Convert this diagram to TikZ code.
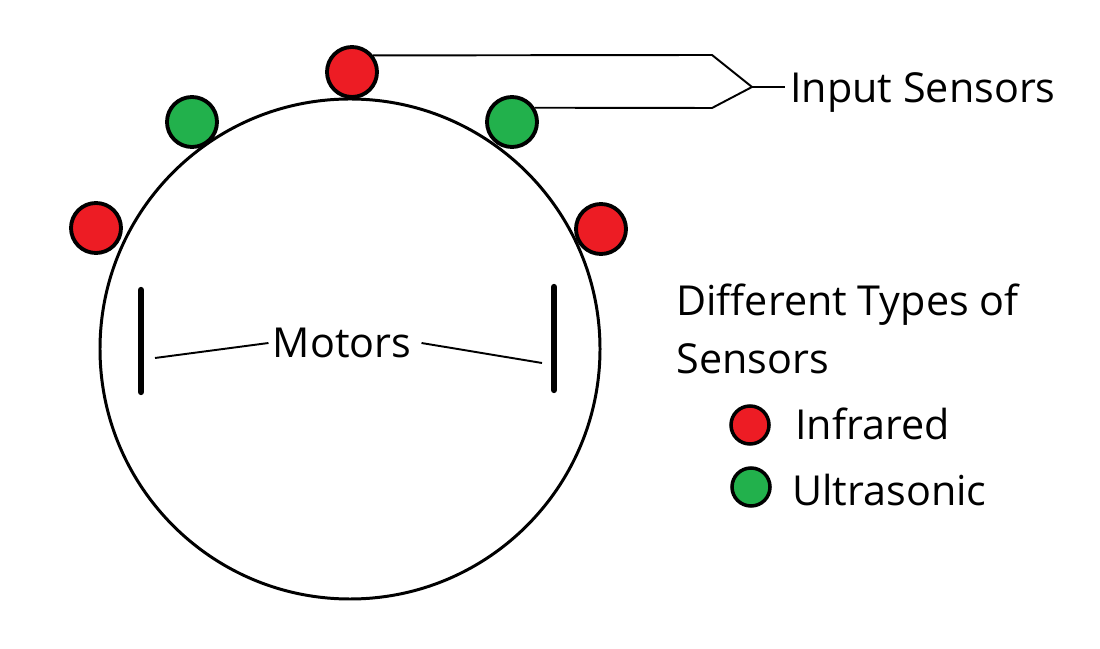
\documentclass[tikz,border=0pt]{standalone}
\usepackage{fontspec}
\setmainfont{Open Sans}
\usepackage{xcolor}
\usepackage{tikz}

\definecolor{irred}{HTML}{ED1C24}
\definecolor{usgreen}{HTML}{22B14C}

\begin{document}
\begin{tikzpicture}[
        sensor/.style={circle, draw=black, line width=2.2pt, minimum size=1.0cm, inner sep=0pt},
        legdot/.style={circle, draw=black, line width=2pt, minimum size=0.76cm, inner sep=0pt},
        lbl/.style={anchor=west, inner sep=0pt, font=\fontsize{23.5}{33}\selectfont},
        wire/.style={black, line width=1.1pt},
        motor/.style={black, line width=3.6pt, line cap=round}
    ]
            \useasboundingbox (0,0) rectangle (22,12.96);

            %% body
            \node[circle, draw=black, line width=1.7pt, minimum size=10cm, inner sep=0pt] (body) at (7.00,5.98) {};

            %% sensors
            \node[sensor, fill=irred]    (topred) at (7.04,11.52) {};
            \node[sensor, fill=usgreen]  (lgreen) at (3.84,10.52) {};
            \node[sensor, fill=usgreen]  (rgreen) at (10.24,10.52) {};
            \node[sensor, fill=irred]    (lred)   at (1.92,8.40) {};
            \node[sensor, fill=irred]    (rred)   at (12.02,8.38) {};

            %% motors
            \draw[motor] (2.82,7.16) -- (2.82,5.12);
            \draw[motor] (11.08,7.22) -- (11.08,5.16);
            \node[lbl, anchor=center] (motors) at (6.84,6.10) {Motors};
            \coordinate (lmot) at (3.10,5.80);
            \coordinate (rmot) at (10.84,5.70);
            \draw[wire] (lmot) -- ([xshift=-0.08cm]motors.west);
            \draw[wire] ([xshift=0.2cm]motors.east) -- (rmot);

            %% input sensors
            \coordinate (kink) at (15.04,11.22);
            \node[lbl] (inlab) at (15.80,11.10) {Input Sensors};
            \draw[wire] (topred.38) -- (14.24,11.86) -- (kink);
            \draw[wire] (rgreen.32) -- (14.24,10.80) -- (kink);
            \draw[wire] (kink) -- (15.70,11.22);

            %% legend
            \node[lbl, align=left] (types) at (13.52,6.38) {Different Types of\\Sensors};
            \node[legdot, fill=irred]   (legred)   at (15.00,4.46) {};
            \node[legdot, fill=usgreen] (leggreen) at (15.02,3.22) {};
            \node[lbl] (infra) at (15.90,4.48) {Infrared};
            \node[lbl] (ultra) at (15.84,3.16) {Ultrasonic};

\end{tikzpicture}
\end{document}
